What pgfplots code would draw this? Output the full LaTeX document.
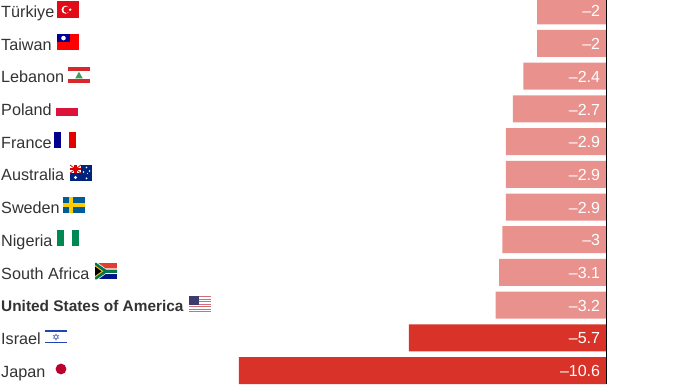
\documentclass[border=0pt]{standalone}
\usepackage{pgfplots}
\pgfplotsset{compat=1.18}
\usepackage{fontspec}
\setmainfont{Liberation Sans}
\definecolor{lightbar}{HTML}{E9928D}
\definecolor{darkbar}{HTML}{D93329}
\definecolor{labeltxt}{HTML}{333333}
% flag helper: local frame is pixels, y downwards, origin at the flag's top left
\newcommand{\flag}[3]{\begin{scope}[shift={(#1pt,{390pt-#2pt})},x=1pt,y=-1pt]#3\end{scope}}
\begin{document}
\begin{tikzpicture}[x=1pt,y=1pt]
\useasboundingbox (0,0) rectangle (700,390);
\begin{axis}[
  at={(0pt,0pt)},anchor=south west,
  scale only axis,width=700pt,height=390pt,
  xmin=-17.493,xmax=2.697,
  ymin=-0.330,ymax=11.596,y dir=reverse,
  hide axis,clip=true,
]
\addplot[xbar,bar width=27pt,bar shift=0pt,fill=lightbar,draw=none] table {
x y
-2 0
-2 1
-2.4 2
-2.7 3
-2.9 4
-2.9 5
-2.9 6
-3 7
-3.1 8
-3.2 9
};
\addplot[xbar,bar width=27pt,bar shift=0pt,fill=darkbar,draw=none] table {
x y
-5.7 10
-10.6 11
};
\addplot[black,line width=1.2pt] coordinates {(0,-0.4) (0,11.42)};
\addplot[only marks,mark=none,
  nodes near coords,point meta=explicit symbolic,
  nodes near coords style={white,inner sep=0pt,anchor=east,yshift=-0.6pt,font=\fontsize{16}{16}\selectfont}]
  table[meta=label] {
x y label
-0.18 0 –2
-0.18 1 –2
-0.18 2 –2.4
-0.18 3 –2.7
-0.18 4 –2.9
-0.18 5 –2.9
-0.18 6 –2.9
-0.18 7 –3
-0.18 8 –3.1
-0.18 9 –3.2
-0.18 10 –5.7
-0.18 11 –10.6
};
\end{axis}
% country labels
\foreach \n [count=\i from 0] in {T\"urkiye,Taiwan,Lebanon,Poland,France,Australia,Sweden,Nigeria,South Africa,{\fontsize{15.4}{16}\selectfont\bfseries United States of America},Israel,Japan}{
  \node[anchor=base west,inner sep=0pt,text=labeltxt,font=\fontsize{16.2}{16}\selectfont] at (1pt,{390pt-(17.5pt+32.7pt*\i)}) {\n};
}
% Türkiye
\flag{57}{1.5}{\fill[fill={rgb,255:red,227;green,10;blue,23}] (0,0) rectangle (22,16.5);
  \fill[white] (8.5,8.25) circle (4);\fill[fill={rgb,255:red,227;green,10;blue,23}] (9.6,8.25) circle (3.2);\fill[white] (13.2,8.25) circle (1.3);}
% Taiwan
\flag{57}{34}{\fill[red!100] (0,0) rectangle (22,16.5);\fill[blue!58!black] (0,0) rectangle (13,8.25);\fill[white] (6.5,4.1) circle (2.3);}
% Lebanon
\flag{68}{67}{\fill[fill={rgb,255:red,217;green,39;blue,46}] (0,0) rectangle (22,4);\fill[fill={rgb,255:red,217;green,39;blue,46}] (0,12.5) rectangle (22,16.5);
  \fill[fill={rgb,255:red,60;green,160;blue,90}] (11,4.7) -- (14.8,11.5) -- (7.2,11.5) -- cycle;}
% Poland
\flag{56}{100}{\fill[white] (0,0) rectangle (22,8.25);\fill[fill={rgb,255:red,220;green,20;blue,60}] (0,8.25) rectangle (22,16.5);}
% France
\flag{54}{132}{\fill[blue!55!black] (0,0) rectangle (7.3,16.5);\fill[red!90!black] (14.7,0) rectangle (22,16.5);}
% Australia
\flag{70}{165}{\fill[fill={rgb,255:red,0;green,36;blue,125}] (0,0) rectangle (22,16.5);
  \fill[white] (0,0) rectangle (11,8.25);
  \draw[red!85!black,line width=.8pt] (0,0) -- (11,8.25) (11,0) -- (0,8.25);
  \fill[red!85!black] (4.3,0) rectangle (6.7,8.25);\fill[red!85!black] (0,3) rectangle (11,5.2);
  \foreach \p/\r in {{5.5,12.5}/1.6,{16.5,2.5}/.9,{16.5,13.5}/1,{13.5,7}/.9,{19.5,6}/.9,{17.5,8.5}/.5}{\fill[white] (\p) circle (\r);}}
% Sweden
\flag{63}{197}{\fill[fill={rgb,255:red,0;green,91;blue,153}] (0,0) rectangle (22,16.5);
  \fill[fill={rgb,255:red,254;green,204;blue,2}] (6.3,0) rectangle (9.9,16.5);\fill[fill={rgb,255:red,254;green,204;blue,2}] (0,6.4) rectangle (22,10.1);}
% Nigeria
\flag{57}{230}{\fill[fill={rgb,255:red,0;green,135;blue,83}] (0,0) rectangle (7.3,16.5);\fill[fill={rgb,255:red,0;green,135;blue,83}] (14.7,0) rectangle (22,16.5);}
% South Africa
\flag{95}{263}{\fill[fill={rgb,255:red,224;green,60;blue,49}] (0,0) rectangle (22,8.25);\fill[fill={rgb,255:red,0;green,20;blue,137}] (0,8.25) rectangle (22,16.5);
  \fill[white] (0,0) -- (3,0) -- (10.5,5.5) -- (22,5.5) -- (22,11) -- (10.5,11) -- (3,16.5) -- (0,16.5) -- cycle;
  \fill[fill={rgb,255:red,0;green,119;blue,73}] (0,0) -- (1.5,0) -- (11,6.6) -- (22,6.6) -- (22,9.9) -- (11,9.9) -- (1.5,16.5) -- (0,16.5) -- cycle;
  \fill[fill={rgb,255:red,255;green,184;blue,28}] (0,2.2) -- (8.3,8.25) -- (0,14.3) -- cycle;
  \fill[black] (0,3.6) -- (6.5,8.25) -- (0,12.9) -- cycle;}
% USA
\flag{189}{296}{\fill[white] (0,0) rectangle (22,16.5);
  \foreach \k in {0,2,4,6,8,10,12}{\fill[fill={rgb,255:red,210;green,110;blue,120}] (0,\k*16.5/13) rectangle (22,\k*16.5/13+16.5/13);}
  \fill[fill={rgb,255:red,60;green,59;blue,110}] (0,0) rectangle (9.5,8.9);}
% Israel
\flag{45}{329.5}{\fill[white] (0,0) rectangle (22,15);
  \fill[fill={rgb,255:red,31;green,71;blue,176}] (0,1) rectangle (22,2.5);\fill[fill={rgb,255:red,31;green,71;blue,176}] (0,12.3) rectangle (22,13.8);
  \draw[draw={rgb,255:red,90;green,120;blue,200},line width=.5pt] (11,4.4) -- (13.6,9) -- (8.4,9) -- cycle (11,10.6) -- (13.6,6) -- (8.4,6) -- cycle;}
% Japan
\fill[fill={rgb,255:red,188;green,0;blue,45}] (61pt,{390pt-369pt}) circle (5.4pt);
\end{tikzpicture}
\end{document}
